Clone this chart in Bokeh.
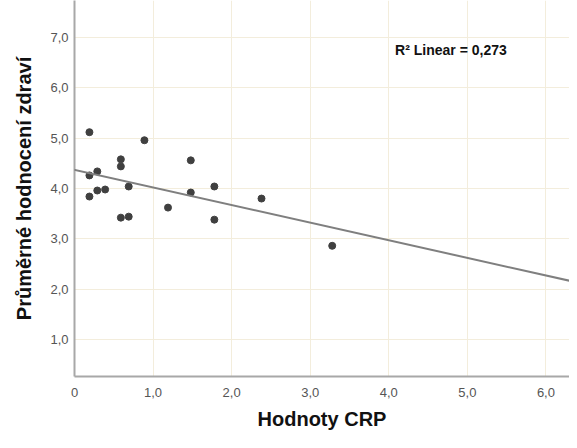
import numpy as np
from bokeh.plotting import figure
from bokeh.layouts import row
from bokeh.models import FixedTicker, Range1d, Label, Slope, Spacer
from bokeh.embed import file_html
from bokeh.resources import INLINE

crp = [0.19, 0.19, 0.19, 0.29, 0.29, 0.39, 0.59, 0.59, 0.59, 0.69, 0.69, 0.89, 1.19, 1.48, 1.48, 1.78, 1.78, 2.38, 3.28]
health = [5.12, 4.26, 3.84, 4.34, 3.96, 3.98, 4.58, 4.44, 3.42, 4.04, 3.44, 4.96, 3.62, 4.56, 3.92, 4.04, 3.38, 3.80, 2.86]
fit_intercept = 4.37
fit_slope = -0.35
r2_text = "R\u00b2 Linear = 0,273"
x_ticks = [0, 1, 2, 3, 4, 5, 6]
x_labels = ["0", "1,0", "2,0", "3,0", "4,0", "5,0", "6,0"]
y_ticks = [1, 2, 3, 4, 5, 6, 7]
y_labels = ["1,0", "2,0", "3,0", "4,0", "5,0", "6,0", "7,0"]

p = figure(width=559, height=432, output_backend="svg", toolbar_location=None,
           x_range=Range1d(0, 6.3), y_range=Range1d(0.26, 7.74),
           min_border_left=0, min_border_right=0, min_border_top=0, min_border_bottom=50)
p.outline_line_color = None
p.background_fill_color = "white"

grid_color = "#F3EDDC"
p.xgrid.ticker = FixedTicker(ticks=x_ticks)
p.ygrid.ticker = FixedTicker(ticks=y_ticks)
p.xgrid.grid_line_color = grid_color
p.ygrid.grid_line_color = grid_color

for ax, ticks, labels in [(p.xaxis[0], x_ticks, x_labels), (p.yaxis[0], y_ticks, y_labels)]:
    ax.ticker = FixedTicker(ticks=ticks)
    ax.major_label_overrides = {t: l for t, l in zip(ticks, labels)}
    ax.axis_line_color = "#A8A8A8"
    ax.axis_line_width = 2
    ax.major_tick_line_color = None
    ax.minor_tick_line_color = None
    ax.major_label_text_font = "Liberation Sans"
    ax.major_label_text_font_size = "13px"
    ax.major_label_text_color = "#555555"
    ax.axis_label_text_font = "Liberation Sans"
    ax.axis_label_text_font_style = "bold"
    ax.axis_label_text_font_size = "20px"
    ax.axis_label_text_color = "#111111"

p.xaxis.axis_label = "Hodnoty CRP"
p.yaxis.axis_label = "Průměrné hodnocení zdraví"
p.xaxis.major_label_standoff = 5
p.xaxis.axis_label_standoff = 8
p.yaxis.major_label_standoff = 0
p.yaxis.axis_label_standoff = 12

p.add_layout(Slope(gradient=fit_slope, y_intercept=fit_intercept, line_color="#7F7F7F", line_width=2))
p.scatter(crp, health, size=7, color="#404040")

p.add_layout(Label(x=4.08, y=6.76, text=r2_text, text_font="Liberation Sans", text_font_style="bold",
                   text_font_size="14px", text_color="#111111", text_baseline="middle"))

layout = row(Spacer(width=10, height=432), p)
open("out.html", "w").write(file_html(layout, INLINE))
